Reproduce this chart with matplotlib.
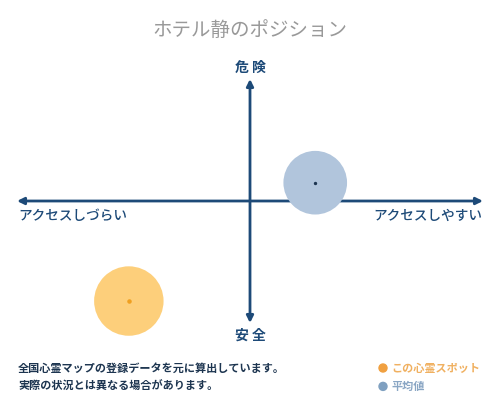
import matplotlib
matplotlib.use('Agg')
import matplotlib.pyplot as plt
from matplotlib.patches import Ellipse

plt.rcParams['font.family'] = ['Noto Sans CJK JP', 'DejaVu Sans']

# chart data (position on the two axes, -10 .. 10)
spot_names = ['この心霊スポット', '平均値']
spot_x = [-5.2, 2.8]
spot_y = [-8.2, 1.5]

title = 'ホテル静のポジション'
label_top = '危 険'
label_bottom = '安 全'
label_left = 'アクセスしづらい'
label_right = 'アクセスしやすい'
notes = ['全国心霊マップの登録データを元に算出しています。',
         '実際の状況とは異なる場合があります。']

navy = '#1d4a78'
fill_colors = ['#fdcf7b', '#b1c5dc']
dot_colors = ['#f0a020', '#1d3550']
text_colors = ['#f0b060', '#8aa6c4']
legend_colors = ['#f0a040', '#7fa0c0']
sizes = [2500, 2100]

fig = plt.figure(figsize=(5, 4), dpi=100, facecolor='white')
ax = fig.add_axes([0.034, 0.1925, 0.932, 0.61])
ax.set_xlim(-10, 10)
ax.set_ylim(-10, 10)
ax.axis('off')

# cross of arrows
arrow = dict(arrowstyle='<|-|>', color=navy, lw=2, mutation_scale=10, shrinkA=0, shrinkB=0)
ax.annotate('', xy=(1, 0.5), xytext=(0, 0.5), xycoords='axes fraction', arrowprops=arrow)
ax.annotate('', xy=(0.5, 1), xytext=(0.5, 0), xycoords='axes fraction', arrowprops=arrow)

# bubbles
for i in range(len(spot_x)):
    ax.scatter(spot_x[i], spot_y[i], s=sizes[i], color=fill_colors[i], edgecolors='none', zorder=3,
               clip_on=False)
    ax.scatter(spot_x[i], spot_y[i], s=[5, 2][i], color=dot_colors[i], zorder=4, clip_on=False)

# texts
fig.text(0.5, 0.925, title, ha='center', va='center', fontsize=14, color='#999999')
fig.text(0.5, 0.83, label_top, ha='center', va='center', fontsize=10, fontweight='bold', color=navy)
fig.text(0.5, 0.162, label_bottom, ha='center', va='center', fontsize=10, fontweight='bold', color=navy)
fig.text(0.036, 0.46, label_left, ha='left', va='center', fontsize=9.8, fontweight='medium', color=navy)
fig.text(0.964, 0.46, label_right, ha='right', va='center', fontsize=9.8, fontweight='medium', color=navy)

for i, line in enumerate(notes):
    fig.text(0.036, 0.08 - i * 0.046, line, ha='left', va='center', fontsize=8,
             fontweight='bold', color='#1d3550')

for i, name in enumerate(spot_names):
    y = 0.08 - i * 0.046
    fig.patches.append(Ellipse((0.766, y), 0.016, 0.02, transform=fig.transFigure,
                               color=legend_colors[i], figure=fig))
    fig.text(0.782, y, name, ha='left', va='center', fontsize=8, fontweight='bold',
             color=text_colors[i])

fig.savefig('out.png', dpi=100, facecolor='white')
